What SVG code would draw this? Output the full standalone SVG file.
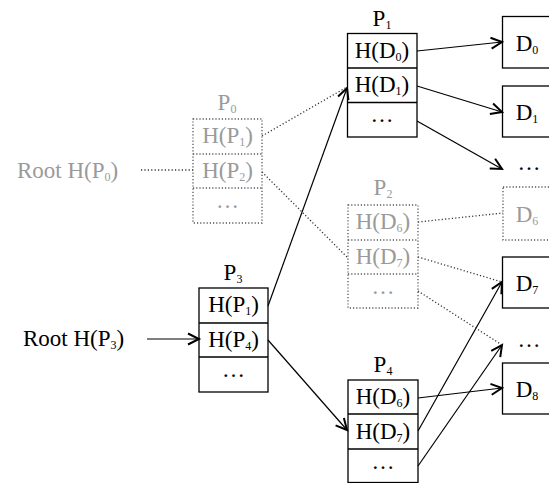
<svg xmlns="http://www.w3.org/2000/svg" width="549" height="483" viewBox="0 0 549 483">
<defs>
<marker id="ah" markerUnits="userSpaceOnUse" markerWidth="16" markerHeight="16" refX="12" refY="7" orient="auto" viewBox="0 0 16 14">
<path d="M1,1.5 L12,7 L1,12.5" fill="none" stroke="#000" stroke-width="2"/>
</marker>
<style>
text{font-family:"Liberation Serif","Times New Roman",serif;font-size:23px;fill:#000;text-anchor:middle}
.g text{fill:#9a9a9a}
text.root{text-anchor:start}
.s{font-size:12px}
.box{fill:none;stroke:#000;stroke-width:1.3}
.dbox{fill:none;stroke:#555;stroke-width:1.3;stroke-dasharray:1.2 2}
.c{fill:none;stroke:#000;stroke-width:1.2}
.a{marker-end:url(#ah)}
.dc{fill:none;stroke:#333;stroke-width:1.3;stroke-dasharray:1.2 2.2}
</style>
</defs>
<rect width="549" height="483" fill="#fff"/>

<g id="connectors">
<line class="c a" x1="417" y1="51" x2="502" y2="42"/>
<line class="c a" x1="417" y1="86" x2="502" y2="112"/>
<line class="c a" x1="417" y1="121" x2="502" y2="169"/>
<line class="c a" x1="268" y1="306" x2="347" y2="88"/>
<line class="c a" x1="147" y1="339" x2="199" y2="339"/>
<line class="c a" x1="268" y1="340" x2="347" y2="430"/>
<line class="c a" x1="418" y1="398" x2="502" y2="388"/>
<line class="c a" x1="418" y1="431" x2="502" y2="282"/>
<line class="c a" x1="418" y1="466" x2="502" y2="345"/>
<line class="dc" x1="141" y1="170" x2="193" y2="170"/>
<line class="dc" x1="262" y1="136" x2="347" y2="87"/>
<line class="dc" x1="262" y1="172" x2="348" y2="258"/>
<line class="dc" x1="418" y1="222" x2="503" y2="213"/>
<line class="dc" x1="418" y1="257" x2="502" y2="282"/>
<line class="dc" x1="418" y1="291" x2="502" y2="345"/>
</g>

<g id="rootP0" class="g">
<text class="root" x="17" y="178">Root H(P<tspan class="s" dy="3">0</tspan><tspan dy="-3">)</tspan></text>
</g>
<g id="rootP3">
<text class="root" x="23" y="346">Root H(P<tspan class="s" dy="3">3</tspan><tspan dy="-3">)</tspan></text>
</g>

<g id="P0" class="g">
<text x="227" y="110">P<tspan class="s" dy="3">0</tspan></text>
<rect class="dbox" x="193" y="119" width="69" height="104"/>
<line class="dbox" x1="193" y1="154" x2="262" y2="154"/>
<line class="dbox" x1="193" y1="188" x2="262" y2="188"/>
<text x="227.5" y="143">H(P<tspan class="s" dy="3">1</tspan><tspan dy="-3">)</tspan></text>
<text x="227.5" y="178">H(P<tspan class="s" dy="3">2</tspan><tspan dy="-3">)</tspan></text>
<text x="227.5" y="208">…</text>
</g>

<g id="P1">
<text x="382" y="26">P<tspan class="s" dy="3">1</tspan></text>
<rect class="box" x="347.5" y="33.5" width="69.5" height="103.5"/>
<line class="box" x1="347.5" y1="68" x2="417" y2="68"/>
<line class="box" x1="347.5" y1="102.5" x2="417" y2="102.5"/>
<text x="382" y="58">H(D<tspan class="s" dy="3">0</tspan><tspan dy="-3">)</tspan></text>
<text x="382" y="92">H(D<tspan class="s" dy="3">1</tspan><tspan dy="-3">)</tspan></text>
<text x="382" y="122">…</text>
</g>

<g id="P2" class="g">
<text x="383" y="195">P<tspan class="s" dy="3">2</tspan></text>
<rect class="dbox" x="348" y="205" width="70" height="103"/>
<line class="dbox" x1="348" y1="240" x2="418" y2="240"/>
<line class="dbox" x1="348" y1="274" x2="418" y2="274"/>
<text x="383" y="229">H(D<tspan class="s" dy="3">6</tspan><tspan dy="-3">)</tspan></text>
<text x="383" y="264">H(D<tspan class="s" dy="3">7</tspan><tspan dy="-3">)</tspan></text>
<text x="383" y="294">…</text>
</g>

<g id="P3">
<text x="233" y="280">P<tspan class="s" dy="3">3</tspan></text>
<rect class="box" x="199" y="288" width="69" height="104"/>
<line class="box" x1="199" y1="323" x2="268" y2="323"/>
<line class="box" x1="199" y1="357" x2="268" y2="357"/>
<text x="233.5" y="312">H(P<tspan class="s" dy="3">1</tspan><tspan dy="-3">)</tspan></text>
<text x="233.5" y="347">H(P<tspan class="s" dy="3">4</tspan><tspan dy="-3">)</tspan></text>
<text x="233.5" y="377">…</text>
</g>

<g id="P4">
<text x="383" y="372">P<tspan class="s" dy="3">4</tspan></text>
<rect class="box" x="348" y="380" width="70" height="102.5"/>
<line class="box" x1="348" y1="414" x2="418" y2="414"/>
<line class="box" x1="348" y1="449" x2="418" y2="449"/>
<text x="383" y="404">H(D<tspan class="s" dy="3">6</tspan><tspan dy="-3">)</tspan></text>
<text x="383" y="439">H(D<tspan class="s" dy="3">7</tspan><tspan dy="-3">)</tspan></text>
<text x="383" y="469">…</text>
</g>

<g id="D0">
<rect class="box" x="502.5" y="16.5" width="60" height="51.5"/>
<text x="527" y="51">D<tspan class="s" dy="3">0</tspan></text>
</g>
<g id="D1">
<rect class="box" x="502.5" y="86" width="60" height="51"/>
<text x="527" y="120">D<tspan class="s" dy="3">1</tspan></text>
</g>
<g id="dots1">
<text x="529" y="170">…</text>
</g>
<g id="D6" class="g">
<rect class="dbox" x="503" y="187" width="60" height="53"/>
<text x="527" y="222">D<tspan class="s" dy="3">6</tspan></text>
</g>
<g id="D7">
<rect class="box" x="502.5" y="257" width="60" height="51"/>
<text x="527" y="291">D<tspan class="s" dy="3">7</tspan></text>
</g>
<g id="dots2">
<text x="529" y="347">…</text>
</g>
<g id="D8">
<rect class="box" x="502.5" y="363" width="60" height="51"/>
<text x="527" y="397">D<tspan class="s" dy="3">8</tspan></text>
</g>
</svg>
